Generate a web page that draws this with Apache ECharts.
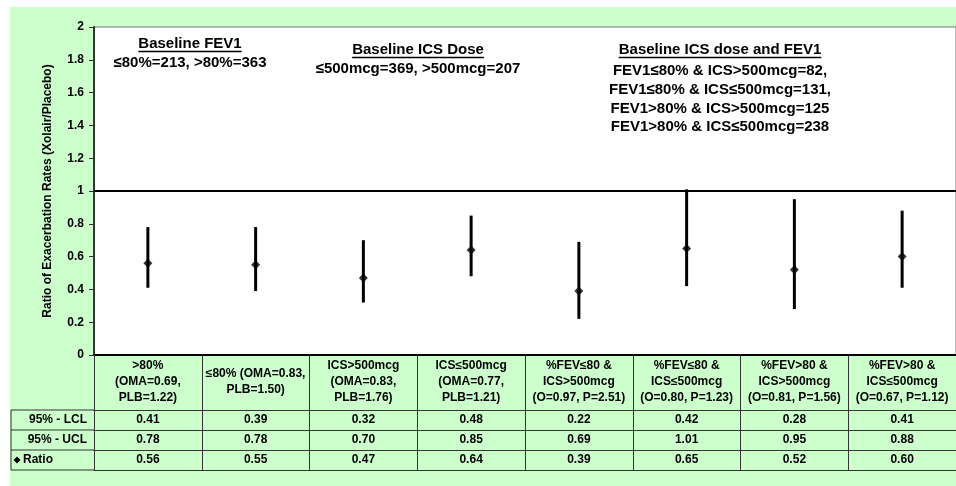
<!DOCTYPE html>
<html>
<head>
<meta charset="utf-8">
<script src="https://cdn.jsdelivr.net/npm/echarts@6/dist/echarts.min.js"></script>
<style>
  html, body { margin: 0; padding: 0; background: #ffffff; }
  #bg { position: absolute; left: 10px; top: 7px; width: 946px; height: 479px; background: #CCFFCC; }
  #chart { position: absolute; left: 0; top: 0; width: 956px; height: 486px; }
</style>
</head>
<body>
<div id="bg"></div>
<div id="chart"></div>
<script>
const categories = [
  '>80%\n(OMA=0.69,\nPLB=1.22)',
  '≤80% (OMA=0.83,\nPLB=1.50)',
  'ICS>500mcg\n(OMA=0.83,\nPLB=1.76)',
  'ICS≤500mcg\n(OMA=0.77,\nPLB=1.21)',
  '%FEV≤80 &\nICS>500mcg\n(O=0.97, P=2.51)',
  '%FEV≤80 &\nICS≤500mcg\n(O=0.80, P=1.23)',
  '%FEV>80 &\nICS>500mcg\n(O=0.81, P=1.56)',
  '%FEV>80 &\nICS≤500mcg\n(O=0.67, P=1.12)'
];
const lcl   = [0.41, 0.39, 0.32, 0.48, 0.22, 0.42, 0.28, 0.41];
const ucl   = [0.78, 0.78, 0.70, 0.85, 0.69, 1.01, 0.95, 0.88];
const ratio = [0.56, 0.55, 0.47, 0.64, 0.39, 0.65, 0.52, 0.60];
const rowLabels = ['95% - LCL', '95% - UCL', 'Ratio'];
const refValue = 1;
const yTitle = 'Ratio of Exacerbation Rates (Xolair/Placebo)';
const noteTitles = ['Baseline FEV1', 'Baseline ICS Dose', 'Baseline ICS dose and FEV1'];
const noteLines = [
  ['≤80%=213, >80%=363'],
  ['≤500mcg=369, >500mcg=207'],
  ['FEV1≤80% & ICS>500mcg=82,', 'FEV1≤80% & ICS≤500mcg=131,', 'FEV1>80% & ICS>500mcg=125', 'FEV1>80% & ICS≤500mcg=238']
];

const FONT = "'Liberation Sans', Arial, sans-serif";
const chart = echarts.init(document.getElementById('chart'), null, { renderer: 'canvas' });

const measure = (txt, font) => {
  const c = document.createElement('canvas').getContext('2d');
  c.font = font;
  return c.measureText(txt).width;
};

// annotation layout (decorative text)
const noteLayout = [
  { cx: 190, ty: 44, ly: 63, gap: 19, fs: 15, ul: 7.5 },
  { cx: 418, ty: 50, ly: 69, gap: 19, fs: 15, ul: 7.5 },
  { cx: 720, ty: 50, ly: 71, gap: 18.7, fs: 15, ul: 7.5 }
];
const graphics = [];
noteTitles.forEach((t, i) => {
  const L = noteLayout[i];
  const noteFont = 'bold ' + L.fs + 'px ' + FONT;
  const w = measure(t, noteFont);
  graphics.push({ type: 'text', x: L.cx, y: L.ty, style: { text: t, font: noteFont, fill: '#000', textAlign: 'center', textVerticalAlign: 'middle' } });
  graphics.push({ type: 'line', shape: { x1: L.cx - w / 2, y1: L.ty + L.ul, x2: L.cx + w / 2, y2: L.ty + L.ul }, style: { stroke: '#000', lineWidth: 1.3 } });
  noteLines[i].forEach((ln, j) => {
    graphics.push({ type: 'text', x: L.cx, y: L.ly + j * L.gap, style: { text: ln, font: noteFont, fill: '#000', textAlign: 'center', textVerticalAlign: 'middle' } });
  });
});

// left column of data table
const tblFont = 'bold 12px ' + FONT;
const rowY = [410, 430, 450, 470];
graphics.push({ type: 'line', shape: { x1: 11, y1: rowY[0], x2: 11, y2: rowY[3] }, style: { stroke: '#333', lineWidth: 1 } });
rowY.forEach(y => graphics.push({ type: 'line', shape: { x1: 11, y1: y, x2: 94, y2: y }, style: { stroke: '#333', lineWidth: 1 } }));
graphics.push({ type: 'text', x: 87, y: 420, style: { text: rowLabels[0], font: tblFont, fill: '#000', textAlign: 'right', textVerticalAlign: 'middle' } });
graphics.push({ type: 'text', x: 87, y: 440, style: { text: rowLabels[1], font: tblFont, fill: '#000', textAlign: 'right', textVerticalAlign: 'middle' } });
graphics.push({ type: 'polygon', shape: { points: [[17, 456.5], [20.5, 460], [17, 463.5], [13.5, 460]] }, style: { fill: '#000' } });
graphics.push({ type: 'text', x: 23, y: 460, style: { text: rowLabels[2], font: tblFont, fill: '#000', textAlign: 'left', textVerticalAlign: 'middle' } });

const rowAxis = (offset, values) => ({
  type: 'category', data: categories, gridIndex: 0, position: 'bottom', offset: offset,
  boundaryGap: true,
  axisLine: { show: true, lineStyle: { color: '#333', width: 1 } },
  axisTick: { show: false },
  axisLabel: values ? {
    show: true, interval: 0, margin: 10, verticalAlign: 'middle',
    formatter: (v, idx) => values[idx].toFixed(2),
    fontFamily: FONT, fontWeight: 'bold', fontSize: 12, color: '#000'
  } : { show: false },
  splitLine: { show: false }
});

const option = {
  animation: false,
  backgroundColor: 'transparent',
  grid: { left: 94, right: 0, top: 27, bottom: 131, show: true, backgroundColor: '#ffffff', borderColor: '#777777', borderWidth: 1 },
  xAxis: [
    {
      type: 'category', data: categories, position: 'bottom', boundaryGap: true,
      axisLine: { show: true, lineStyle: { color: '#000', width: 2 } },
      axisTick: { show: true, interval: 0, length: 115, lineStyle: { color: '#333', width: 1 } },
      axisLabel: { show: true, interval: 0, margin: 27, verticalAlign: 'middle', lineHeight: 16,
        fontFamily: FONT, fontWeight: 'bold', fontSize: 12, color: '#000' },
      splitLine: { show: false }
    },
    rowAxis(55, lcl),
    rowAxis(75, ucl),
    rowAxis(95, ratio),
    rowAxis(115, null)
  ],
  yAxis: {
    type: 'value', min: 0, max: 2, interval: 0.2,
    name: yTitle, nameLocation: 'middle', nameGap: 40, nameRotate: 90,
    nameTextStyle: { fontFamily: FONT, fontWeight: 'bold', fontSize: 12, color: '#000' },
    axisLine: { show: true, lineStyle: { color: '#333', width: 2 } },
    axisTick: { show: true, length: 5, lineStyle: { color: '#333', width: 1 } },
    axisLabel: { margin: 10, fontFamily: FONT, fontWeight: 'bold', fontSize: 12, color: '#000',
      formatter: v => String(Math.round(v * 10) / 10) },
    splitLine: { show: false }
  },
  series: [
    {
      type: 'custom', xAxisIndex: 0,
      data: categories.map((c, i) => [i, lcl[i], ucl[i]]),
      renderItem: (params, api) => {
        const p1 = api.coord([api.value(0), api.value(1)]);
        const p2 = api.coord([api.value(0), api.value(2)]);
        return { type: 'line', shape: { x1: p1[0], y1: p1[1], x2: p2[0], y2: p2[1] }, style: { stroke: '#000', lineWidth: 3 } };
      },
      markLine: {
        silent: true, symbol: 'none', label: { show: false },
        lineStyle: { color: '#000', width: 2, type: 'solid' },
        data: [{ yAxis: refValue }]
      },
      z: 3
    },
    {
      type: 'scatter', xAxisIndex: 0, symbol: 'diamond', symbolSize: [9, 9],
      itemStyle: { color: '#000' },
      data: categories.map((c, i) => [i, ratio[i]]),
      z: 4
    }
  ],
  graphic: graphics
};
chart.setOption(option);
</script>
</body>
</html>
